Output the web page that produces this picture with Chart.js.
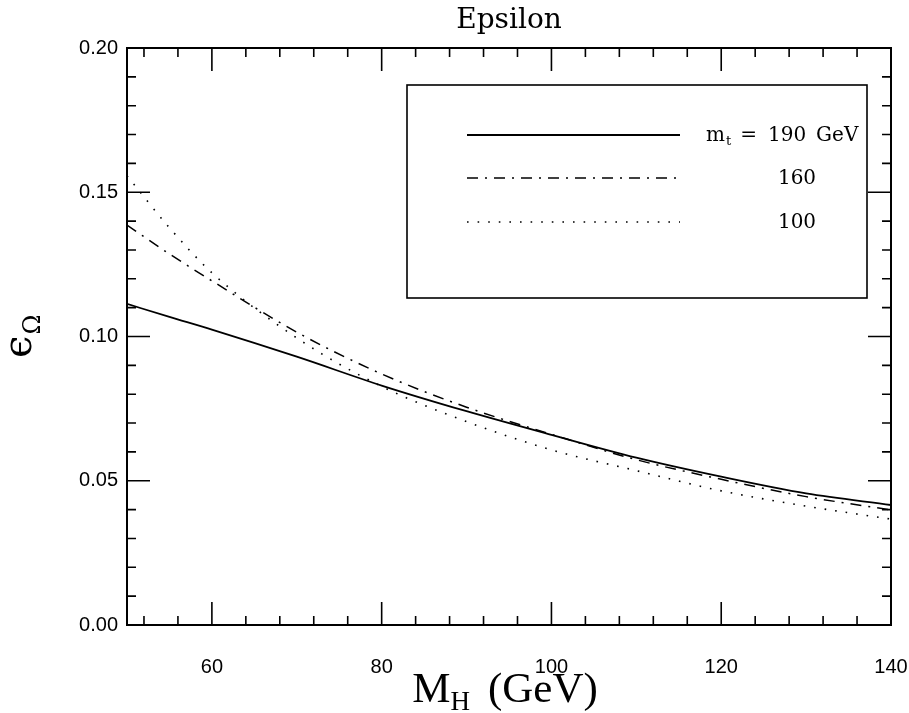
<!DOCTYPE html>
<html><head><meta charset="utf-8">
<script src="https://cdn.jsdelivr.net/npm/chart.js@4"></script>
<style>html,body{margin:0;padding:0;background:#fff;}canvas{display:block;}</style>
</head><body>
<canvas id="c" width="909" height="713"></canvas>
<script>
// ---- data ----
const MH = [50, 55, 60, 70, 80, 90, 100, 110, 120, 130, 140];
const eps_mt190 = [0.1113, 0.1068, 0.1024, 0.0930, 0.0830, 0.0741, 0.0659, 0.0580, 0.0514, 0.0456, 0.0416];
const eps_mt160 = [0.1386, 0.1286, 0.1193, 0.1015, 0.0870, 0.0755, 0.0661, 0.0573, 0.0505, 0.0445, 0.0399];
const eps_mt100 = [0.1557, 0.1377, 0.1221, 0.0995, 0.0827, 0.0705, 0.0607, 0.0535, 0.0465, 0.0412, 0.0367];
const seriesLabels = ["190 GeV", "160", "100"];
const xTickValues = [60, 80, 100, 120, 140];
const xMinorTicks = [52, 56, 64, 68, 72, 76, 84, 88, 92, 96, 104, 108, 112, 116, 124, 128, 132, 136];
const yTickValues = [0.00, 0.05, 0.10, 0.15, 0.20];
const yMinorTicks = [0.01, 0.02, 0.03, 0.04, 0.06, 0.07, 0.08, 0.09, 0.11, 0.12, 0.13, 0.14, 0.16, 0.17, 0.18, 0.19];

const toXY = arr => MH.map((x, i) => ({x: x, y: arr[i]}));
const SERIF = '"DejaVu Serif", "Liberation Serif", serif';
const SANS = '"Liberation Sans", Arial, sans-serif';

const styles = [
  {dash: [], width: 1.8},
  {dash: [11, 7, 2, 7], width: 1.5},
  {dash: [1.6, 9], width: 1.6}
];

const decor = {
  id: 'decor',
  afterDraw(chart) {
    const ctx = chart.ctx, ca = chart.chartArea;
    const xs = chart.scales.x, ys = chart.scales.y;
    ctx.save();
    ctx.strokeStyle = '#000';
    ctx.fillStyle = '#000';
    // frame
    ctx.lineWidth = 2;
    ctx.strokeRect(ca.left, ca.top, ca.right - ca.left, ca.bottom - ca.top);
    // ticks (inward, all four sides)
    ctx.lineWidth = 1.6;
    const MAJ = 23, MIN = 9;
    ctx.beginPath();
    xTickValues.forEach(v => {
      const p = xs.getPixelForValue(v);
      ctx.moveTo(p, ca.bottom); ctx.lineTo(p, ca.bottom - MAJ);
      ctx.moveTo(p, ca.top); ctx.lineTo(p, ca.top + MAJ);
    });
    xMinorTicks.forEach(v => {
      const p = xs.getPixelForValue(v);
      ctx.moveTo(p, ca.bottom); ctx.lineTo(p, ca.bottom - MIN);
      ctx.moveTo(p, ca.top); ctx.lineTo(p, ca.top + MIN);
    });
    yTickValues.forEach(v => {
      const p = ys.getPixelForValue(v);
      ctx.moveTo(ca.left, p); ctx.lineTo(ca.left + MAJ, p);
      ctx.moveTo(ca.right, p); ctx.lineTo(ca.right - MAJ, p);
    });
    yMinorTicks.forEach(v => {
      const p = ys.getPixelForValue(v);
      ctx.moveTo(ca.left, p); ctx.lineTo(ca.left + MIN, p);
      ctx.moveTo(ca.right, p); ctx.lineTo(ca.right - MIN, p);
    });
    ctx.stroke();

    // title
    ctx.font = '28px ' + SERIF;
    ctx.textAlign = 'center';
    ctx.textBaseline = 'alphabetic';
    ctx.fillText('Epsilon', (ca.left + ca.right) / 2, 28);

    // x axis title: M_H (GeV)
    const xcx = (ca.left + ca.right) / 2 - 4;
    const xbase = 702;
    ctx.textAlign = 'left';
    const big = '43px "Liberation Serif", serif', small = '27px "Liberation Serif", serif';
    ctx.font = big;
    const wM = ctx.measureText('M').width;
    const wG = ctx.measureText('(GeV)').width;
    ctx.font = small;
    const wH = ctx.measureText('H').width;
    const gap = 18;
    const tot = wM + wH + gap + wG;
    let xx = xcx - tot / 2;
    ctx.font = big;
    ctx.fillText('M', xx, xbase); xx += wM;
    ctx.font = small;
    ctx.fillText('H', xx, xbase + 8); xx += wH + gap;
    ctx.font = big;
    ctx.fillText('(GeV)', xx, xbase);

    // y axis title: epsilon_Omega (rotated)
    ctx.save();
    ctx.translate(31, 358);
    ctx.rotate(-Math.PI / 2);
    ctx.font = '40px "DejaVu Serif", serif';
    ctx.textAlign = 'left';
    ctx.fillText('\u03F5', 0, 0);
    const we = ctx.measureText('\u03F5').width;
    ctx.font = '24px "DejaVu Serif", serif';
    ctx.fillText('\u03A9', we + 1, 9);
    ctx.restore();

    // legend box
    const bx = ca.left + 280, by = ca.top + 37, bw = 460, bh = 213;
    ctx.lineWidth = 1.6;
    ctx.strokeRect(bx, by, bw, bh);
    const rows = [by + 50, by + 93, by + 137];
    const lx0 = bx + 60, lx1 = bx + 273;
    chart.data.datasets.forEach((ds, i) => {
      ctx.save();
      ctx.lineWidth = styles[i].width;
      ctx.setLineDash(styles[i].dash);
      ctx.beginPath();
      ctx.moveTo(lx0, rows[i]); ctx.lineTo(lx1, rows[i]);
      ctx.stroke();
      ctx.restore();
    });
    const lf = '20px ' + SERIF;
    ctx.font = lf;
    ctx.textBaseline = 'middle';
    // first row: m_t = 190 GeV
    let tx = bx + 299;
    ctx.textAlign = 'left';
    ctx.fillText('m', tx, rows[0] + 1);
    tx += ctx.measureText('m').width;
    ctx.font = '13px ' + SERIF;
    ctx.fillText('t', tx + 1, rows[0] + 7);
    tx += ctx.measureText('t').width + 10;
    ctx.font = lf;
    ctx.fillText('=', tx, rows[0] + 1);
    tx += ctx.measureText('=').width + 11;
    const parts = seriesLabels[0].split(' ');
    ctx.fillText(parts[0], tx, rows[0] + 1);
    tx += ctx.measureText(parts[0]).width + 10;
    ctx.fillText(parts[1], tx, rows[0] + 1);
    ctx.textAlign = 'center';
    ctx.fillText(seriesLabels[1], bx + 390, rows[1] + 1);
    ctx.fillText(seriesLabels[2], bx + 390, rows[2] + 1);
    ctx.restore();
  }
};

const mkDs = (arr, i) => ({
  data: toXY(arr),
  borderColor: '#000',
  borderWidth: styles[i].width,
  borderDash: styles[i].dash,
  pointRadius: 0,
  fill: false,
  cubicInterpolationMode: 'monotone'
});

new Chart(document.getElementById('c'), {
  type: 'line',
  data: { datasets: [mkDs(eps_mt190, 0), mkDs(eps_mt160, 1), mkDs(eps_mt100, 2)] },
  options: {
    responsive: false,
    animation: false,
    devicePixelRatio: 1,
    layout: { padding: { top: 48, right: 18, left: 0, bottom: 0 } },
    plugins: { legend: { display: false }, title: { display: false }, tooltip: { enabled: false } },
    scales: {
      x: {
        type: 'linear', min: 50, max: 140,
        afterBuildTicks: s => { s.ticks = xTickValues.map(v => ({value: v})); },
        afterFit: s => { s.height = 88; s.paddingLeft = 0; s.paddingRight = 0; },
        grid: { display: false, drawTicks: false },
        border: { display: false },
        ticks: { color: '#000', font: { family: SANS, size: 20 }, padding: 30, maxRotation: 0, autoSkip: false }
      },
      y: {
        type: 'linear', min: 0, max: 0.2,
        afterBuildTicks: s => { s.ticks = yTickValues.map(v => ({value: v})); },
        afterFit: s => { s.width = 127; s.paddingTop = 0; s.paddingBottom = 0; },
        grid: { display: false, drawTicks: false },
        border: { display: false },
        ticks: { color: '#000', font: { family: SANS, size: 20 }, padding: 9, callback: v => Number(v).toFixed(2) }
      }
    }
  },
  plugins: [decor]
});
</script>
</body></html>
